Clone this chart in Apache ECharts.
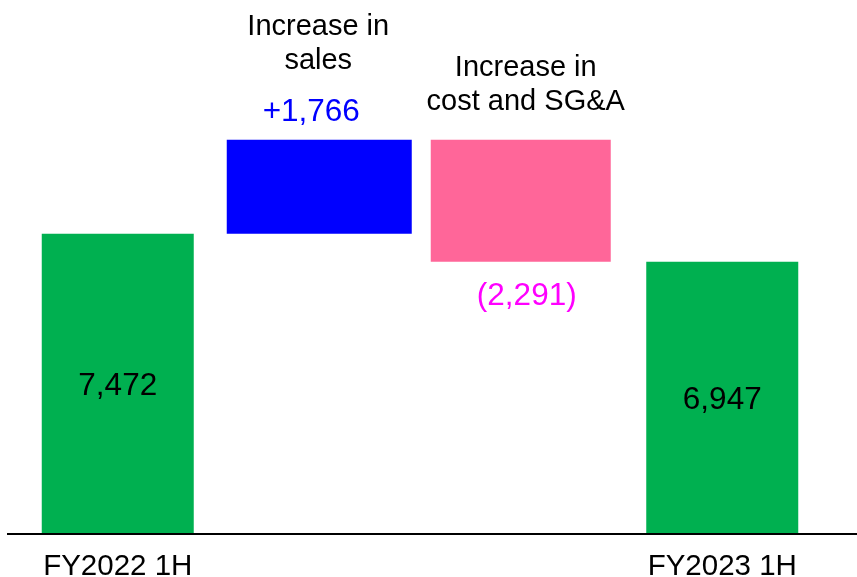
<!DOCTYPE html>
<html>
<head>
<meta charset="utf-8">
<script src="https://cdn.jsdelivr.net/npm/echarts@6/dist/echarts.min.js"></script>
<style>
  html, body { margin: 0; padding: 0; background: #ffffff; }
  #chart { width: 857px; height: 577px; }
</style>
</head>
<body>
<div id="chart"></div>
<script>
// Operating profit bridge, FY2022 1H -> FY2023 1H
const categories = ['FY2022 1H', 'Increase in sales', 'Increase in cost and SG&A', 'FY2023 1H'];
const stepTitles = ['', 'Increase in\nsales', 'Increase in\ncost and SG&A', ''];
const openingProfit = 7472;
const salesIncrease = 1766;
const costIncrease = 2291;
const closingProfit = 6947;

// Bar and label styling
const FONT = '"Liberation Sans", Arial, sans-serif';
const barColors = ['#00B050', '#0000FF', '#FF6699', '#00B050'];
const labelColors = ['#000000', '#0000FF', '#FF00FF', '#000000'];
const barWidths = [152, 185, 180, 152];
const NUM_SIZE = 31.5;
const TITLE_SIZE = 29;

const fmt = v => Math.abs(v).toLocaleString('en-US');

// Waterfall segments: [category index, low, high, signed change]
const peak = openingProfit + salesIncrease;
const segments = [
  [0, 0, openingProfit, openingProfit],
  [1, openingProfit, peak, salesIncrease],
  [2, peak - costIncrease, peak, -costIncrease],
  [3, 0, closingProfit, closingProfit]
];

function labelText(i, v) {
  if (i === 1) return '+' + fmt(v);
  if (i === 2) return '(' + fmt(v) + ')';
  return fmt(v);
}

function textEl(text, color, size, x, y, va) {
  return {
    type: 'text', x: x, y: y,
    style: { text: text, fill: color, fontSize: size, fontFamily: FONT,
             align: 'center', verticalAlign: va, lineHeight: 34 }
  };
}

function renderItem(params, api) {
  const i = api.value(0);
  const low = api.value(1);
  const high = api.value(2);
  const change = api.value(3);
  const cs = params.coordSys;
  const top = api.coord([i, high]);
  const base = api.coord([i, low]);
  const bottomY = Math.min(base[1], cs.y + cs.height);
  const cx = top[0];
  const w = barWidths[i];
  const children = [{
    type: 'rect',
    shape: { x: cx - w / 2, y: top[1], width: w, height: bottomY - top[1] },
    style: { fill: barColors[i] }
  }];
  const txt = labelText(i, change);
  if (i === 0 || i === 3) {
    // totals: value inside the bar
    children.push(textEl(txt, labelColors[i], NUM_SIZE, cx, (top[1] + bottomY) / 2 + 3, 'middle'));
  } else if (i === 1) {
    // increase: value and caption above the bar
    children.push(textEl(txt, labelColors[i], NUM_SIZE, cx - 8, top[1] - 27, 'middle'));
    children.push(textEl(stepTitles[i], '#000000', TITLE_SIZE, cx - 1, top[1] - 62, 'bottom'));
  } else {
    // decrease: value below, caption above
    children.push(textEl(txt, labelColors[i], NUM_SIZE, cx + 6, bottomY + 35, 'middle'));
    children.push(textEl(stepTitles[i], '#000000', TITLE_SIZE, cx + 5, top[1] - 21, 'bottom'));
  }
  return { type: 'group', children: children };
}

const yMin = 1850;
const yMax = 11000;

const chart = echarts.init(document.getElementById('chart'), null, { renderer: 'canvas' });
chart.setOption({
  animation: false,
  backgroundColor: '#ffffff',
  grid: { left: 17, right: 34, top: 46, bottom: 44, outerBoundsMode: 'none', containLabel: false },
  xAxis: {
    type: 'category',
    data: categories,
    axisLine: { show: false },
    axisTick: { show: false },
    splitLine: { show: false },
    axisLabel: {
      interval: (idx) => idx === 0 || idx === 3,
      color: '#000000',
      fontSize: 29.5,
      fontFamily: FONT,
      margin: 19
    }
  },
  yAxis: { type: 'value', min: yMin, max: yMax, show: false },
  series: [{
    type: 'custom',
    renderItem: renderItem,
    clip: false,
    encode: { x: 0, y: [1, 2] },
    data: segments
  }]
});

// Horizontal baseline drawn along the bottom of the value axis
const baseY = chart.convertToPixel({ yAxisIndex: 0 }, yMin) + 1;
chart.setOption({
  graphic: [{
    type: 'line',
    shape: { x1: 7, y1: baseY, x2: 857, y2: baseY },
    style: { stroke: '#000000', lineWidth: 2 },
    z: 10
  }]
});
</script>
</body>
</html>
